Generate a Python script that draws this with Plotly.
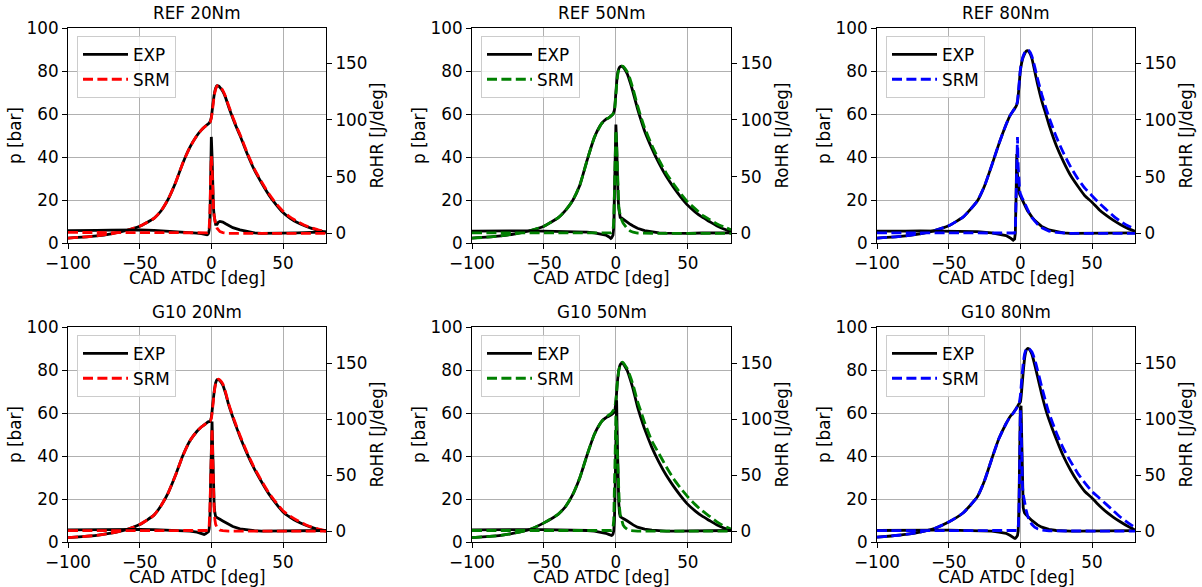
import plotly.graph_objects as go

# ---------------- data ----------------
# crank angle grid for cylinder pressure [deg ATDC]
PX = [-100, -90, -80, -70, -60, -50, -40, -35, -30, -25, -20, -15, -10, -7, -5, -3, -2, -1,
      0, 1, 2, 3, 4, 5, 6, 8, 10, 12, 15, 18, 20, 25, 30, 35, 40, 45, 50, 55, 60, 65, 70, 75, 80]
# crank angle grid for rate of heat release [deg ATDC]
RX = [-100, -90, -80, -70, -60, -50, -40, -30, -20, -15, -10, -7, -5, -4, -3.5, -3, -2.5, -2, -1.5, -1, -0.5,
      0, 0.5, 1, 1.5, 2, 2.5, 3, 4, 5, 6, 8, 10, 12, 15, 20, 25, 30, 35, 40, 50, 60, 70, 80]

titles = ["REF 20Nm", "REF 50Nm", "REF 80Nm", "G10 20Nm", "G10 50Nm", "G10 80Nm"]
srm_colors = ["#ff0000", "#008000", "#0000ff", "#ff0000", "#008000", "#0000ff"]

# pressure [bar]
p_exp_ref20 = [2.3, 2.7, 3.3, 4.3, 5.7, 7.8, 11.5, 15, 20.5, 28, 37, 44.5, 50, 52.5, 53.8, 55, 55.5, 56.3,
               58.5, 64, 69, 72, 73.2, 73, 72.4, 70.5, 67.5, 63.5, 58, 53, 50, 41.5, 34, 28, 22.5, 18, 14.2, 11.5, 9.5, 8, 6.8, 5.8, 5.1]
p_srm_ref20 = [2.3, 2.7, 3.3, 4.3, 5.7, 7.8, 11.5, 15, 20.5, 28, 37, 44.5, 50, 52.5, 53.8, 55, 55.5, 56,
               58, 63, 68.5, 71.5, 73, 73.3, 72.8, 71, 68, 64, 58.5, 53.5, 50.5, 42, 34.5, 28.5, 23, 18.5, 14.8, 12, 10, 8.3, 7, 6, 5.2]
p_exp_ref50 = [2.3, 2.7, 3.3, 4.3, 5.7, 7.8, 11.8, 15.2, 19.8, 27, 38.5, 49, 55.5, 57.5, 58.2, 59.3, 60, 62,
               70, 78, 81, 82, 82.2, 81.8, 81, 78.5, 74.5, 70, 62.5, 56, 52, 44, 37, 31, 26, 21.5, 17.5, 14.5, 12, 10, 8, 6.5, 5.3]
p_srm_ref50 = [2.3, 2.7, 3.3, 4.3, 5.7, 7.8, 11.8, 15.2, 19.8, 27, 38.5, 49, 55.5, 57.5, 58.2, 59.3, 60, 61.5,
               69, 77, 80.5, 82, 82.3, 82.2, 81.5, 79.5, 76, 71.5, 64, 57.5, 53.5, 45.5, 38.5, 32.5, 27.5, 23, 19, 16, 13, 11, 9, 7.5, 6.2]
p_exp_ref80 = [2.3, 2.7, 3.3, 4.3, 5.8, 8, 12, 15.5, 19.5, 26.5, 36, 46, 55, 59.5, 61.5, 63.5, 65.5, 72,
               80, 84, 86.5, 88, 89.2, 89.5, 89, 86, 80, 74, 66, 59.5, 55, 45.5, 38, 31.5, 26.5, 22, 19, 15.5, 12.8, 10.5, 8.5, 6.8, 5.5]
p_srm_ref80 = [2.3, 2.7, 3.3, 4.3, 5.8, 8, 12, 15.5, 19.5, 26.5, 36, 46, 55, 59.5, 61.5, 63.5, 66, 73,
               80.5, 84.5, 87, 88.5, 89.5, 89.8, 89.5, 87, 82, 76.5, 69, 62.5, 58.5, 49.5, 42, 35.5, 30, 25.5, 22, 18.5, 15.5, 12.5, 10, 8, 6.5]
p_exp_g10_20 = [2.0, 2.5, 3.1, 4.1, 5.6, 8.1, 12.5, 17, 23, 31, 40, 47, 51.5, 53.5, 54.5, 55.5, 56, 56,
                58, 64, 70, 74, 75.5, 75.5, 75, 73, 69, 64, 58, 52.5, 49, 41, 34, 28, 22.5, 18, 14, 11.5, 9.5, 8, 6.8, 5.8, 5.0]
p_srm_g10_20 = [2.0, 2.5, 3.1, 4.1, 5.6, 8.1, 12.5, 17, 23, 31, 40, 47, 51.5, 53.5, 54.5, 55.5, 56, 56,
                57.5, 63, 69.5, 73.5, 75.5, 75.8, 75.3, 73.5, 69.5, 64.5, 58.5, 53, 49.5, 41.5, 34.5, 28.5, 23, 18.5, 14.5, 12, 10, 8.3, 7, 6, 5.2]
p_exp_g10_50 = [2.0, 2.5, 3.1, 4.2, 5.8, 8.9, 13, 16.5, 22, 30, 40.5, 50, 56, 57.8, 58.5, 59.3, 59.8, 60.5,
                65, 74, 80, 82.5, 83.2, 83, 82, 79.5, 75.5, 71, 63, 56.5, 52.5, 44, 37, 31, 26, 21.5, 17.5, 14.5, 12, 10, 8, 6.5, 5.3]
p_srm_g10_50 = [2.0, 2.5, 3.1, 4.2, 5.8, 8.9, 13, 16.5, 22, 30, 40.5, 50, 56, 58, 59, 60, 61, 62,
                66, 74, 79.5, 82.5, 83.5, 83.5, 82.5, 80.5, 77, 73, 65.5, 59.5, 55.5, 47, 41, 35, 29.5, 25, 21, 17.5, 14.5, 12, 9.5, 7.5, 6]
p_exp_g10_80 = [2.3, 2.8, 3.5, 4.6, 6.3, 9.3, 13.5, 17, 21, 28.5, 38.5, 48, 55, 58.5, 60, 62, 63, 64.3,
                65, 71, 79, 85.5, 89, 90, 89.8, 87.5, 82.5, 77, 68.5, 61, 57, 48, 40, 33.5, 28, 23.5, 20.5, 17, 14, 11.5, 9.3, 7.3, 5.6]
p_srm_g10_80 = [2.3, 2.8, 3.5, 4.6, 6.3, 9.3, 13.5, 17, 21, 28.5, 38.5, 48, 55, 58.3, 59.8, 61.8, 63, 64,
                68, 76, 83, 87.5, 89.5, 90, 90, 88.5, 85, 80, 72, 64.5, 60, 51, 43.5, 37.5, 32, 27.5, 23.5, 20.5, 17.5, 14.5, 11.5, 9, 6.8]

# rate of heat release [J/deg]
hr_exp_ref20 = [2.4, 2.2, 2.6, 2.8, 3, 3, 2.6, 2, 1.5, 1, 0.3, -0.3, -1, -1.5, -1.5, -1.3, -1, 0, 3, 12, 45,
                85, 68, 40, 22, 15, 11, 8, 8, 10, 10.5, 10, 8.5, 7, 5, 3, 1.5, 0.5, 0, 0, 0.2, 0.5, 0.8, 1]
hr_srm_ref20 = [0.8, 0.7, 0.6, 0.5, 0.5, 0.4, 0.3, 0.2, 0.1, 0, 0, 0, 0, 0, 0.2, 0.5, 1, 2, 5, 18, 48,
                68, 58, 35, 22, 15, 11, 8, 4.5, 2.5, 1.5, 0.6, 0.2, 0, 0, 0, 0, 0, 0, 0, 0, 0, 0, 0]
hr_exp_ref50 = [2, 2.2, 2, 2.3, 2.2, 2, 1.8, 1.5, 1, 0.5, -0.5, -1.5, -3, -4.5, -4.5, -4, -3, -1.5, 5, 30, 65,
                96, 80, 50, 32, 22, 17, 14, 13.5, 12.5, 11.5, 10, 8, 6.5, 4.5, 2.5, 1.2, 0.5, 0.2, 0, 0, 0.3, 0.5, 0.5]
hr_srm_ref50 = [0.5, 0.5, 0.4, 0.4, 0.3, 0.3, 0.2, 0.1, 0, 0, 0, 0, 0, 0.2, 0.4, 0.8, 1.5, 3, 10, 35, 70,
                91, 78, 52, 34, 24, 19, 16, 12, 9, 7, 4, 2, 1, 0.3, 0, 0, 0, 0, 0, 0, 0, 0, 0]
hr_exp_ref80 = [2, 2.3, 2, 2.2, 2, 2, 1.8, 1.5, 0.5, -0.5, -2, -4, -6, -5, 0, 30, 70, 52, 42, 37, 34.5,
                33, 31.5, 30.5, 29.5, 28.5, 27, 25.5, 22.5, 20, 18, 14.5, 11.5, 9, 6, 3, 1.5, 0.5, 0, 0, 0.2, 0.3, 0.5, 0.5]
hr_srm_ref80 = [0.5, 0.5, 0.4, 0.4, 0.3, 0.3, 0.2, 0.1, 0, 0, 0, 0, 0, 0.3, 2, 25, 70, 85, 60, 45, 38,
                35, 33, 31.5, 30.5, 29.5, 28, 26.5, 23.5, 21, 18.5, 14, 10.5, 8, 5, 2, 0.8, 0.2, 0, 0, 0, 0, 0, 0]
hr_exp_g10_20 = [1, 1.2, 1, 1.3, 1.5, 1.5, 1.3, 1, 0.5, 0, -1, -2, -3, -2.5, -2, -1.5, -1, -0.5, 2, 10, 45,
                 88, 98, 70, 40, 22, 16, 13, 12, 11, 10.5, 9, 7.5, 6, 4, 2, 1, 0.3, 0, 0, 0.2, 0.3, 0.5, 0.5]
hr_srm_g10_20 = [0.3, 0.3, 0.3, 0.3, 0.2, 0.2, 0.2, 0.1, 0, 0, 0, 0, 0, 0, 0, 0.2, 0.5, 1, 5, 20, 55,
                 85, 92, 65, 35, 18, 10, 6, 3, 1.5, 0.8, 0.3, 0, 0, 0, 0, 0, 0, 0, 0, 0, 0, 0, 0]
hr_exp_g10_50 = [1, 1.2, 1, 1.2, 1.3, 1.2, 1.1, 1, 0.5, 0, -1, -2, -3, -3.5, -4, -4, -3.5, -2.5, 0, 10, 40,
                 90, 117, 80, 45, 25, 16, 13, 12, 11.5, 10.5, 9, 7, 5.5, 3.5, 1.8, 0.8, 0.3, 0, 0, 0.2, 0.3, 0.5, 0.5]
hr_srm_g10_50 = [0.5, 0.5, 0.4, 0.4, 0.3, 0.3, 0.2, 0.1, 0, 0, 0, 0, 0, 0.1, 0.3, 0.5, 1.5, 3, 10, 30, 70,
                 103, 95, 70, 45, 30, 21, 15, 9, 5.5, 3.5, 1.5, 0.5, 0.2, 0, 0, 0, 0, 0, 0, 0, 0, 0, 0]
hr_exp_g10_80 = [0.5, 0.7, 0.6, 0.8, 0.8, 0.8, 0.7, 0.5, 0, -1, -2, -4, -6, -6.5, -6.5, -6, -5, -4, 0, 20, 70,
                 110, 112, 75, 35, 21, 18, 16, 14.5, 13, 12, 9.5, 7.5, 5.5, 3.5, 1.5, 0.5, 0, 0, 0, 0.1, 0.2, 0.3, 0.3]
hr_srm_g10_80 = [0.3, 0.3, 0.3, 0.3, 0.2, 0.2, 0.2, 0.1, 0, 0, 0, 0, 0, 0, 0, 0.2, 0.3, 0.5, 2, 15, 55,
                 108, 95, 55, 40, 33, 29, 26, 19, 14, 10.5, 6, 3.5, 2, 0.8, 0.1, 0, 0, 0, 0, 0, 0, 0, 0]

p_exp = [p_exp_ref20, p_exp_ref50, p_exp_ref80, p_exp_g10_20, p_exp_g10_50, p_exp_g10_80]
p_srm = [p_srm_ref20, p_srm_ref50, p_srm_ref80, p_srm_g10_20, p_srm_g10_50, p_srm_g10_80]
hr_exp = [hr_exp_ref20, hr_exp_ref50, hr_exp_ref80, hr_exp_g10_20, hr_exp_g10_50, hr_exp_g10_80]
hr_srm = [hr_srm_ref20, hr_srm_ref50, hr_srm_ref80, hr_srm_g10_20, hr_srm_g10_50, hr_srm_g10_80]

x_ticks = [-100, -50, 0, 50]
p_ticks = [0, 20, 40, 60, 80, 100]
hr_ticks = [0, 50, 100, 150]

# ---------------- layout geometry ----------------
W, H = 1202, 587
xdom_px = [(68, 326), (472, 731), (877, 1135)]
ydom_px = [(28, 243), (327, 542)]
hr_ranges = [[-8.5, 181], [-9.8, 182.5]]

FONT = "DejaVu Sans"
FS = 16.8
LW = 2.8
DASH = "10px,4.4px"

fig = go.Figure()
layout = dict(
    width=W, height=H,
    margin=dict(l=0, r=0, t=0, b=0),
    paper_bgcolor="white", plot_bgcolor="white",
    font=dict(family=FONT, size=FS, color="black"),
    annotations=[],
)

for i in range(6):
    r, c = divmod(i, 3)
    n = i + 1
    xs = "" if n == 1 else str(n)
    xa, ya, ya2 = "x" + xs, "y" + xs, "y" + str(n + 6)
    leg = "legend" if n == 1 else "legend" + str(n)
    col = srm_colors[i]

    fig.add_trace(go.Scatter(x=PX, y=p_exp[i], xaxis=xa, yaxis=ya, mode="lines", name="EXP",
                             line=dict(color="black", width=LW, shape="spline", smoothing=0.5),
                             legend=leg))
    fig.add_trace(go.Scatter(x=PX, y=p_srm[i], xaxis=xa, yaxis=ya, mode="lines", name="SRM",
                             line=dict(color=col, width=LW, dash=DASH, shape="spline", smoothing=0.5),
                             legend=leg))
    fig.add_trace(go.Scatter(x=RX, y=hr_exp[i], xaxis=xa, yaxis=ya2, mode="lines", name="EXP",
                             line=dict(color="black", width=LW), showlegend=False))
    fig.add_trace(go.Scatter(x=RX, y=hr_srm[i], xaxis=xa, yaxis=ya2, mode="lines", name="SRM",
                             line=dict(color=col, width=LW, dash=DASH), showlegend=False))

    x0, x1 = xdom_px[c]
    y0, y1 = ydom_px[r]
    xd = [x0 / W, x1 / W]
    yd = [1 - y1 / H, 1 - y0 / H]

    common = dict(showline=True, linecolor="black", linewidth=1.1, ticks="outside", ticklen=5,
                  tickwidth=1.1, tickcolor="black", tickfont=dict(size=FS, family=FONT, color="black"),
                  zeroline=False, automargin=False)
    layout["xaxis" + xs] = dict(domain=xd, anchor=ya, range=[-100, 80], tickvals=x_ticks,
                                showgrid=True, gridcolor="#b0b0b0", gridwidth=1.1, mirror=True, **common)
    layout["yaxis" + xs] = dict(domain=yd, anchor=xa, range=[0, 100], tickvals=p_ticks,
                                showgrid=True, gridcolor="#b0b0b0", gridwidth=1.1, mirror=True,
                                title=dict(text="p [bar]", standoff=0, font=dict(size=FS)), **common)
    layout["yaxis" + str(n + 6)] = dict(domain=yd, anchor=xa, overlaying=ya, side="right",
                                        range=hr_ranges[r], tickvals=hr_ticks, showgrid=False,
                                        title=dict(text="RoHR [J/deg]", standoff=2, font=dict(size=FS)), **common)
    layout[leg] = dict(x=(x0 + 9) / W, y=1 - (y0 + 8) / H, xanchor="left", yanchor="top",
                       bgcolor="rgba(255,255,255,0.8)", bordercolor="#cccccc", borderwidth=1,
                       font=dict(size=FS, family=FONT, color="black"), traceorder="normal",
                       itemwidth=45)
    # subplot title
    layout["annotations"].append(dict(text=titles[i], x=(x0 + x1) / 2 / W, y=1 - y0 / H,
                                      xref="paper", yref="paper", xanchor="center", yanchor="bottom",
                                      yshift=3, showarrow=False, font=dict(size=FS, family=FONT, color="black")))
    # x-axis title
    layout["annotations"].append(dict(text="CAD ATDC [deg]", x=(x0 + x1) / 2 / W, y=1 - y1 / H,
                                      xref="paper", yref="paper", xanchor="center", yanchor="middle",
                                      yshift=-35, showarrow=False, font=dict(size=FS, family=FONT, color="black")))

fig.update_layout(**layout)
fig.write_html("out.html")
